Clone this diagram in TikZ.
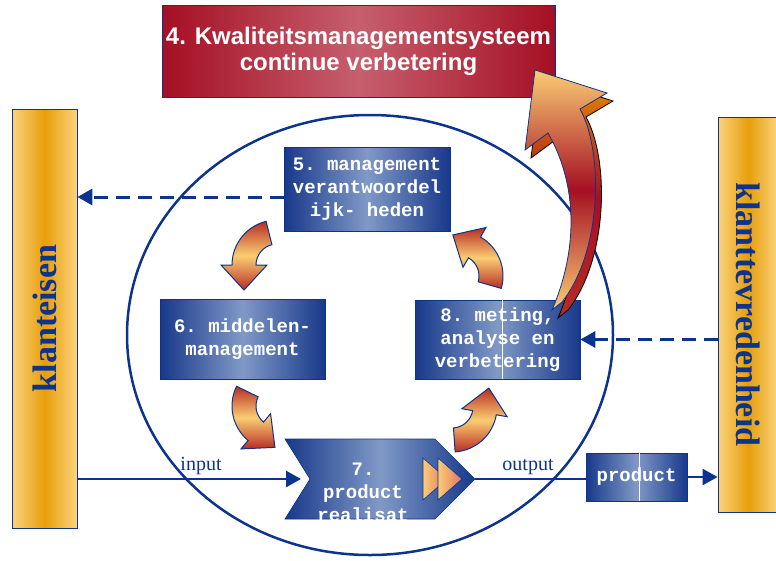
\documentclass[tikz,border=0pt]{standalone}
\usepackage{fontspec}
\setmainfont{Liberation Serif}
\setsansfont{Liberation Sans}
\setmonofont{Liberation Mono}
\usepackage{tikz}
\usetikzlibrary{arrows.meta, calc}

\definecolor{navy}{RGB}{12,52,140}
\definecolor{boxdark}{RGB}{24,56,138}
\definecolor{boxlight}{RGB}{128,153,198}
\definecolor{redark}{RGB}{165,15,35}
\definecolor{redlight}{RGB}{198,95,110}
\definecolor{barlight}{RGB}{251,212,125}
\definecolor{bardark}{RGB}{230,158,10}
\definecolor{arrowred}{RGB}{185,45,35}
\definecolor{arrowyel}{RGB}{250,205,115}
\definecolor{tippink}{RGB}{225,115,105}
\definecolor{shadeorange}{RGB}{230,140,0}

\begin{document}
\begin{tikzpicture}[
    x=1pt, y=-1pt,
    procbox/.style={draw=navy, line width=0.6pt, inner sep=0pt, left color=boxdark, right color=boxdark, middle color=boxlight, text=white, font=\ttfamily\bfseries\fontsize{19}{23}\selectfont, align=center},
    chevfill/.style={draw=navy, line width=0.6pt, left color=boxdark, right color=boxdark, middle color=boxlight},
    chevtip/.style={draw=navy, line width=0.6pt, left color=arrowyel, right color=tippink},
    sidebar/.style={draw=navy, line width=0.8pt, inner sep=0pt, left color=barlight, right color=barlight, middle color=bardark, text=navy, font=\bfseries\fontsize{34}{40}\selectfont},
    goalbox/.style={draw=navy, line width=0.8pt, inner sep=0pt, left color=redark, right color=redark, middle color=redlight, text=white, font=\sffamily\bfseries\fontsize{24}{26}\selectfont, align=center},
    flowline/.style={navy, line width=2.5pt},
    flowarrow/.style={flowline, -{Triangle[length=15pt, width=16pt]}},
    feedback/.style={flowarrow, line width=3pt, dash pattern=on 14pt off 8pt},
    turnarrow/.style={draw=navy, line width=1pt, top color=arrowred, bottom color=arrowred, middle color=arrowyel},
    bigarrow/.style={draw=navy, line width=0.8pt, top color=arrowyel, bottom color=arrowyel, middle color=redark},
    bigshadow/.style={draw=black, line width=0.8pt, top color=shadeorange, bottom color=arrowred, middle color=redark},
    bigarrowpath/.style={insert path={(552,310) .. controls (578,250) and (578,185) .. (548,133)
        -- (525,150) -- (535,70) -- (607,93) -- (580,109)
        .. controls (603,150) and (603,250) .. (562,302) -- cycle}},
    chevpath/.style={insert path={(285,439) -- (435,439) -- (475,479) -- (435,519) -- (285,519) -- (310,479) -- cycle}},
    flowlabel/.style={text=navy, font=\fontsize{20}{24}\selectfont, anchor=base}
]
\useasboundingbox (0,0) rectangle (776,560);

% the cycle
\draw[navy, line width=2.5pt] (370,335) ellipse [x radius=243, y radius=220];

% side bars
\node[sidebar, minimum width=65pt, minimum height=419pt] (req) at (44.5,318.5) {\rotatebox{90}{klanteisen}};
\node[sidebar, minimum width=60pt, minimum height=395pt] (sat) at (748,314.5) {\rotatebox{-90}{klanttevredenheid}};

% process steps
\node[procbox, minimum width=166pt, minimum height=84pt] (mgmt) at (367,189) {5. management\\verantwoordel\\ijk- heden};
\node[procbox, minimum width=165pt, minimum height=80pt] (res) at (242.5,339) {6. middelen-\\management};
\node[procbox, minimum width=165pt, minimum height=79pt] (meas) at (497.5,339.5) {8. meting,\\analyse en\\verbetering};
\draw[white, line width=0.6pt] ([xshift=4.5pt]meas.north) -- ([xshift=4.5pt]meas.south);

% product realisation (chevron)
\path[chevfill, chevpath];
\path[chevtip] (423,458) -- (447,479) -- (423,500) -- cycle;
\path[chevtip] (438,458) -- (462,479) -- (438,500) -- cycle;
\begin{scope}
  \clip[chevpath];
  \node[text=white, font=\ttfamily\bfseries\fontsize{19}{23}\selectfont, align=center] (real) at (363,492) {7.\\product\\realisat};
\end{scope}
\coordinate (real-in) at (301,479);
\coordinate (real-out) at (475,479);

\node[procbox, minimum width=101pt, minimum height=48pt] (product) at (636.5,477) {product};
\draw[white, line width=0.6pt] ([xshift=2.5pt]product.north) -- ([xshift=2.5pt]product.south);

% flows
\draw[flowarrow] (req.east |- real-in) -- (real-in);
\draw[flowline] (real-out) -- (real-out -| product.west);
\draw[flowarrow] (product.east) -- (sat.west |- product.east);
\node[flowlabel] (inlabel) at (201,470) {input};
\node[flowlabel] (outlabel) at (528,470) {output};

% feedback
\coordinate (mgmt-out) at ([yshift=-8pt]mgmt.west);
\draw[feedback] (mgmt-out) -- (req.east |- mgmt-out);
\draw[feedback] (sat.west |- meas.east) -- (meas.east);

% turning arrows between the steps (angles run clockwise, y points down)
\foreach \cx/\cy/\a/\b in {277/265/-104/-180, 277/406/-154/-230, 452/407/-274/-350, 458/276/16/-60}
  \path[turnarrow] ($(\cx,\cy)+(\a:45)$) arc[start angle=\a, end angle=\b, radius=45]
    -- ($(\cx,\cy)+(\b:56)$) -- ($(\cx,\cy)+(\b:33)+({\b-90}:25)$)
    -- ($(\cx,\cy)+(\b:10)$) -- ($(\cx,\cy)+(\b:21)$)
    arc[start angle=\b, end angle=\a, radius=21] -- cycle;

% quality system
\node[goalbox, minimum width=393pt, minimum height=92pt] (kms) at (358.5,51) {4. Kwaliteitsmanagementsysteem\\continue verbetering};

\begin{scope}[shift={(6,8)}]
  \path[bigshadow, bigarrowpath];
\end{scope}
\path[bigarrow, bigarrowpath];

\end{tikzpicture}
\end{document}
